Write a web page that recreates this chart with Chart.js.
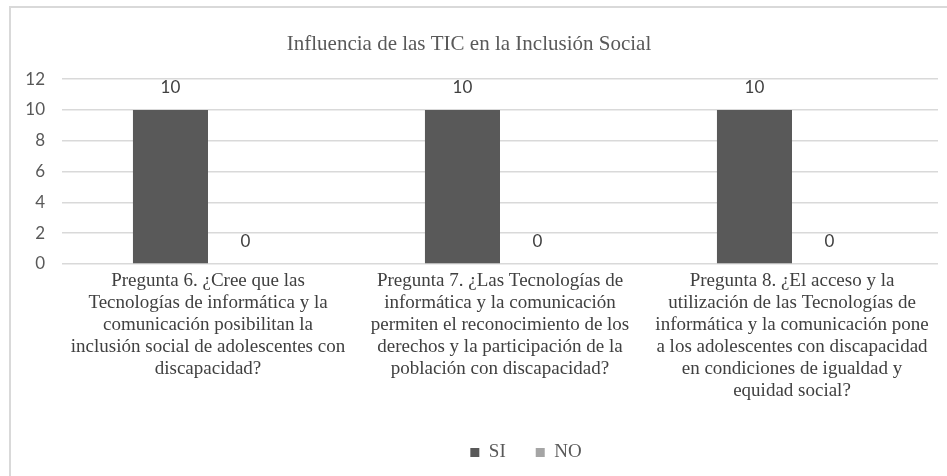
<!DOCTYPE html>
<html>
<head>
<meta charset="utf-8">
<script src="https://cdn.jsdelivr.net/npm/chart.js@4"></script>
<style>
  html, body { margin: 0; padding: 0; background: #fff; }
  #wrap { position: relative; width: 947px; height: 476px; }
  #marco { position: absolute; left: 9px; top: 6px; right: 0; bottom: 0;
           border-top: 2px solid #d9d9d9; border-left: 2px solid #d9d9d9; }
  canvas { position: absolute; left: 0; top: 0; }
</style>
</head>
<body>
<div id="wrap">
  <div id="marco"></div>
  <canvas id="grafico" width="947" height="476"></canvas>
</div>
<script>
// datos
const titulo = "Influencia de las TIC en la Inclusión Social";
const preguntas = [
  ["Pregunta 6. ¿Cree que las", "Tecnologías de informática y la", "comunicación posibilitan la", "inclusión social de adolescentes con", "discapacidad?"],
  ["Pregunta 7. ¿Las Tecnologías de", "informática y la comunicación", "permiten el reconocimiento de los", "derechos y la participación de la", "población con discapacidad?"],
  ["Pregunta 8. ¿El acceso y la", "utilización de las Tecnologías de", "informática y la comunicación pone", "a los adolescentes con discapacidad", "en condiciones de igualdad y", "equidad social?"]
];
const valoresSI = [10, 10, 10];
const valoresNO = [0, 0, 0];
const ticksY = [0, 2, 4, 6, 8, 10, 12];

const serif = "'Liberation Serif', 'Times New Roman', serif";
const sans = "Lato, 'Open Sans', sans-serif";

// etiquetas de valor encima de cada barra
const etiquetasValor = {
  id: 'etiquetasValor',
  afterDatasetsDraw(chart) {
    const ctx = chart.ctx;
    ctx.save();
    ctx.font = "17px " + sans;
    ctx.fillStyle = "#404040";
    ctx.textAlign = "center";
    ctx.textBaseline = "middle";
    chart.data.datasets.forEach((ds, i) => {
      chart.getDatasetMeta(i).data.forEach((bar, j) => {
        ctx.fillText(ds.data[j], bar.x, bar.y - 22);
      });
    });
    ctx.restore();
  }
};

// la leyenda del original no esta centrada, va un poco a la derecha
const moverLeyenda = {
  id: 'moverLeyenda',
  afterLayout(chart) {
    chart.legend.left += 57;
    chart.legend.right += 57;
  }
};

new Chart(document.getElementById('grafico'), {
  type: 'bar',
  data: {
    labels: preguntas,
    datasets: [
      { label: 'SI', data: valoresSI, backgroundColor: '#595959', borderWidth: 0,
        categoryPercentage: 0.514, barPercentage: 1 },
      { label: 'NO', data: valoresNO, backgroundColor: '#a5a5a5', borderWidth: 0,
        categoryPercentage: 0.514, barPercentage: 1 }
    ]
  },
  options: {
    responsive: false,
    animation: false,
    layout: { padding: { top: 0, right: 9, bottom: 4, left: 0 } },
    plugins: {
      title: {
        display: true,
        text: titulo,
        color: '#595959',
        font: { family: serif, size: 21, weight: 'normal', lineHeight: 1.2 },
        padding: { top: 32, bottom: 22 }
      },
      legend: {
        position: 'bottom',
        labels: {
          color: '#595959',
          font: { family: serif, size: 19 },
          boxWidth: 9,
          boxHeight: 9,
          padding: 30
        }
      },
      tooltip: { enabled: false }
    },
    scales: {
      x: {
        grid: { display: false, drawTicks: false },
        border: { display: false },
        ticks: {
          color: '#404040',
          font: { family: serif, size: 19, lineHeight: 22 / 19 },
          padding: 6,
          autoSkip: false,
          maxRotation: 0,
          minRotation: 0
        },
        afterFit(scale) { scale.height = 149; }
      },
      y: {
        min: 0,
        max: 12,
        afterBuildTicks(scale) { scale.ticks = ticksY.map(v => ({ value: v })); },
        grid: { color: '#d9d9d9', lineWidth: 1.5, drawTicks: false },
        border: { display: false },
        ticks: {
          color: '#595959',
          font: { family: sans, size: 17 },
          padding: 17
        },
        afterFit(scale) { scale.width = 62; }
      }
    }
  },
  plugins: [etiquetasValor, moverLeyenda]
});
</script>
</body>
</html>
